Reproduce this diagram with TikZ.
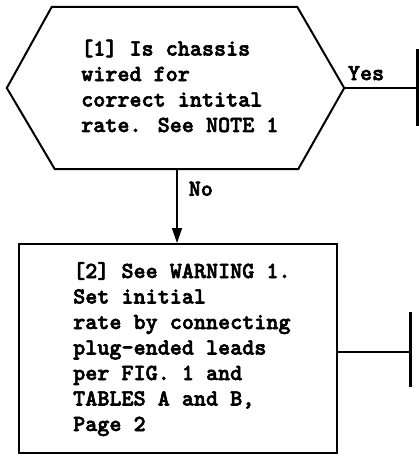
\documentclass[tikz,border=0pt]{standalone}
\usepackage{fontspec}
\newfontfamily\flowfont{lmmonolt10-bold.otf}[FakeBold=2.5]
\usetikzlibrary{arrows.meta, calc}

\begin{document}
\begin{tikzpicture}[
    x=1pt, y=-1pt,
    >={Triangle[length=15pt, width=10pt]},
    flowtext/.style={font=\fontsize{23}{25.5}\selectfont\flowfont, align=left, inner sep=0pt},
    lbl/.style={font=\fontsize{23}{25}\selectfont\flowfont, inner sep=0pt},
    decision/.style={minimum width=337pt, minimum height=162pt, inner sep=0pt},
    process/.style={draw, line width=2pt, minimum width=318pt, minimum height=209pt, inner sep=0pt},
    edge/.style={line width=2pt},
    conn/.style={line width=1.5pt},
    stub/.style={line width=3pt}
]
\useasboundingbox (0,0) rectangle (419,457);

% ==================== STEP 1: DECISION ====================
\node[decision] (q1) at (175.5, 88) {};
\draw[edge] (q1.west) -- ([xshift=45pt]q1.north west) -- ([xshift=-47pt]q1.north east)
    -- (q1.east) -- ([xshift=-46pt]q1.south east) -- ([xshift=48pt]q1.south west) -- cycle;
\node[flowtext, anchor=base west] (q1text) at (81, 132) {%
    [1] Is chassis\\
    wired for\\
    correct intital\\
    rate. See NOTE 1};

% Yes branch (continues off the page)
\coordinate (yesend) at (417, 88);
\draw[conn] (q1.east) -- node[lbl, pos=0.3, above=7pt] (yes) {Yes} (yesend);
\draw[stub] ($(yesend)+(0,-39)$) -- ($(yesend)+(0,38)$);

% ==================== STEP 2: ACTION ====================
\node[process] (a1) at (178, 348.5) {};
\node[flowtext, anchor=base west] (a1text) at (73, 431) {%
    [2] See WARNING 1.\\
    Set initial\\
    rate by connecting\\
    plug-ended leads\\
    per FIG. 1 and\\
    TABLES A and B,\\
    Page 2};

% No branch
\draw[conn, ->] (q1.south -| 177,0) -- node[lbl, pos=0.36, anchor=base west, xshift=11pt] (no) {No} (a1.north -| 177,0);

% continuation off the page
\coordinate (a1end) at (410, 352);
\draw[conn] (a1.east |- a1end) -- (a1end);
\draw[stub] ($(a1end)+(0,-40)$) -- ($(a1end)+(0,35)$);

\end{tikzpicture}
\end{document}
